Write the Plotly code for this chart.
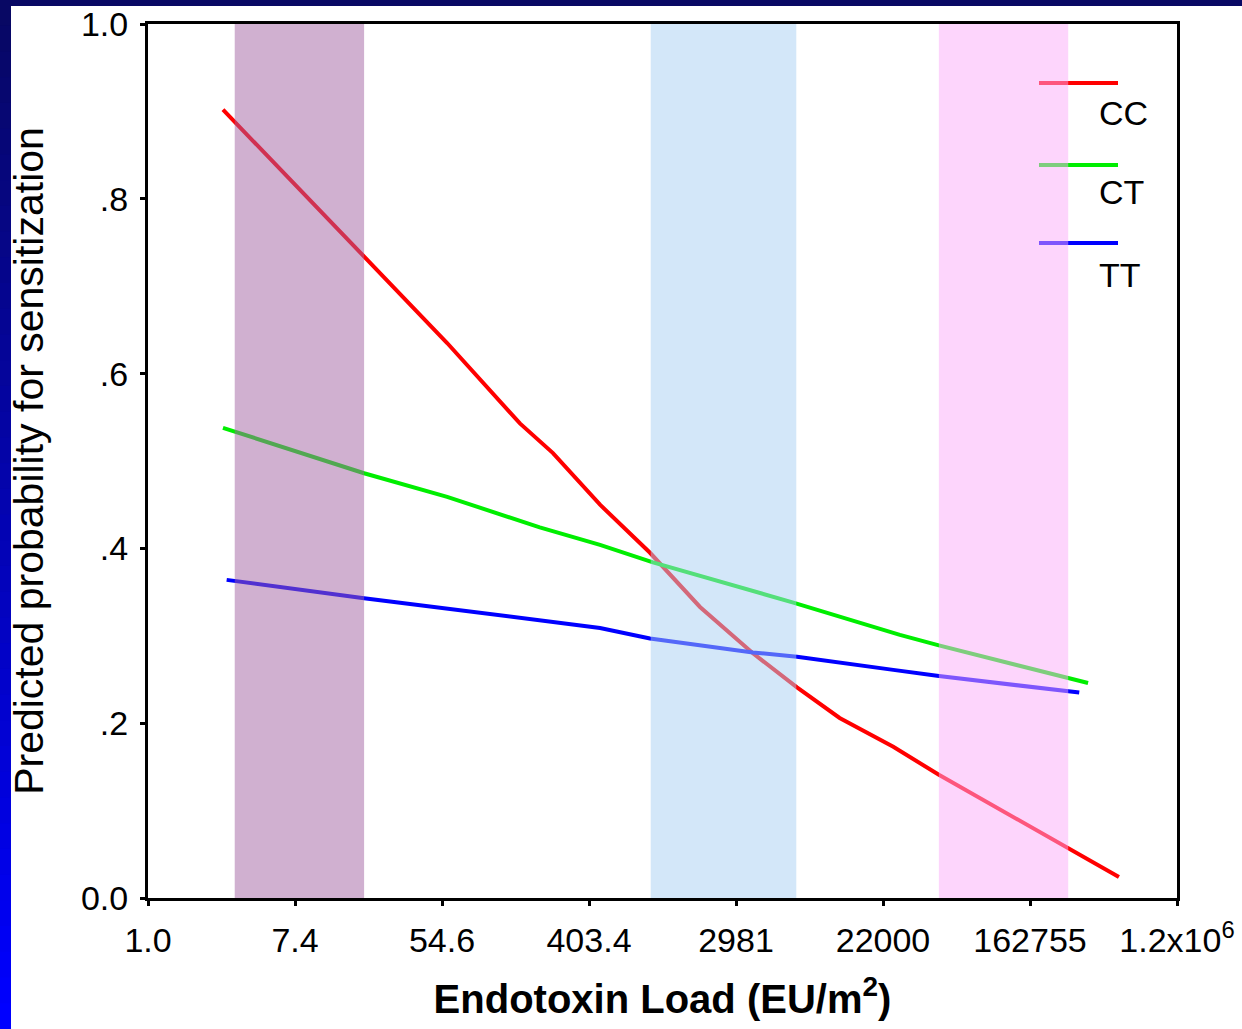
import plotly.graph_objects as go

# ---- data (x = ln of endotoxin load, EU/m2) ----
tick_ln = [0, 2, 4, 6, 8, 10, 12, 14]
tick_text = ["1.0", "7.4", "54.6", "403.4", "2981", "22000", "162755", "1.2x10<sup>6</sup>"]
ytick_vals = [0.0, 0.2, 0.4, 0.6, 0.8, 1.0]
ytick_text = ["0.0", ".2", ".4", ".6", ".8", "1.0"]

cc_x = [1.02, 2.94, 4.07, 5.06, 5.51, 6.15, 6.83, 7.51, 8.23, 8.83, 9.41, 10.14, 10.76, 13.21]
cc_y = [0.902, 0.733, 0.635, 0.543, 0.509, 0.450, 0.395, 0.333, 0.280, 0.241, 0.206, 0.173, 0.141, 0.024]

ct_x = [1.02, 2.94, 4.07, 5.33, 6.15, 6.87, 8.78, 10.23, 10.76, 12.79]
ct_y = [0.538, 0.486, 0.459, 0.424, 0.404, 0.384, 0.338, 0.301, 0.289, 0.246]

tt_x = [1.07, 2.94, 6.15, 6.83, 8.23, 8.83, 10.14, 10.76, 12.67]
tt_y = [0.364, 0.343, 0.309, 0.297, 0.281, 0.276, 0.261, 0.254, 0.235]

series_names = ["CC", "CT", "TT"]
series_colors = ["#ff0000", "#00ee00", "#0000ff"]

band_x0 = [1.18, 6.84, 10.76]
band_x1 = [2.94, 8.82, 12.52]
band_colors = ["#A161A1", "#A7CFF3", "#FBABF9"]

FONT = "Liberation Sans, Arial, sans-serif"

fig = go.Figure()
for name, xs, ys, col in zip(series_names, [cc_x, ct_x, tt_x], [cc_y, ct_y, tt_y], series_colors):
    fig.add_trace(go.Scatter(x=xs, y=ys, mode="lines", name=name,
                             line=dict(color=col, width=4), showlegend=False))

shapes = []
# page frame: navy top strip and left gradient strip
W, H = 1242, 1029
L, R, T, B = 148, 65, 24, 131
pw, ph = W - L - R, H - T - B
def px_x(p):
    return (p - L) / pw
def px_y(p):
    return (H - B - p) / ph

shapes.append(dict(type="rect", xref="paper", yref="paper", layer="below",
                   x0=px_x(0), x1=px_x(W), y0=px_y(6), y1=px_y(0),
                   fillcolor="rgb(8,8,100)", line=dict(width=0)))
nsteps = 40
for i in range(nsteps):
    t = i / (nsteps - 1)
    r = int(8 * (1 - t))
    b = int(100 + (255 - 100) * t)
    ytop = H * i / nsteps
    ybot = H * (i + 1) / nsteps + 1
    shapes.append(dict(type="rect", xref="paper", yref="paper", layer="below",
                       x0=px_x(0), x1=px_x(11), y0=px_y(ybot), y1=px_y(ytop),
                       fillcolor=f"rgb({r},{r},{b})", line=dict(width=0)))

# legend lines
leg_y_px = [83, 165, 243]
for col, yp in zip(series_colors, leg_y_px):
    shapes.append(dict(type="line", xref="paper", yref="paper", layer="above",
                       x0=px_x(1039), x1=px_x(1118), y0=px_y(yp), y1=px_y(yp),
                       line=dict(color=col, width=4)))

# shaded bands (semi-transparent, above lines)
for x0, x1, c in zip(band_x0, band_x1, band_colors):
    shapes.append(dict(type="rect", xref="x", yref="paper", layer="above",
                       x0=x0, x1=x1, y0=0, y1=1, fillcolor=c, opacity=0.5,
                       line=dict(width=0)))

annotations = []
leg_lab_px = [(1123, 113), (1121, 192), (1120, 275)]
for name, (xp, yp) in zip(series_names, leg_lab_px):
    annotations.append(dict(xref="paper", yref="paper", x=px_x(xp), y=px_y(yp),
                            text=name, showarrow=False, xanchor="center", yanchor="middle",
                            font=dict(family=FONT, size=34, color="black")))

fig.update_layout(
    width=W, height=H,
    margin=dict(l=L, r=R, t=T, b=B, autoexpand=False),
    paper_bgcolor="white", plot_bgcolor="white",
    shapes=shapes, annotations=annotations,
    showlegend=False,
    xaxis=dict(range=[0, 14], tickvals=tick_ln, ticktext=tick_text,
               showgrid=False, zeroline=False, showline=True, linecolor="black",
               linewidth=3, mirror=True, ticks="outside", ticklen=5, tickwidth=3,
               tickcolor="black", ticklabelstandoff=5,
               tickfont=dict(family=FONT, size=34, color="black"),
               title=dict(text="<b>Endotoxin Load (EU/m<sup>2</sup>)</b>", standoff=28,
                          font=dict(family=FONT, size=40, color="black")),
               automargin=False),
    yaxis=dict(range=[0, 1], tickvals=ytick_vals, ticktext=ytick_text,
               showgrid=False, zeroline=False, showline=True, linecolor="black",
               linewidth=3, mirror=True, ticks="outside", ticklen=5, tickwidth=3,
               tickcolor="black", ticklabelstandoff=5,
               tickfont=dict(family=FONT, size=34, color="black"),
               title=dict(text="Predicted probability for sensitization", standoff=25,
                          font=dict(family=FONT, size=41, color="black")),
               automargin=False),
)

fig.write_html("out.html")
